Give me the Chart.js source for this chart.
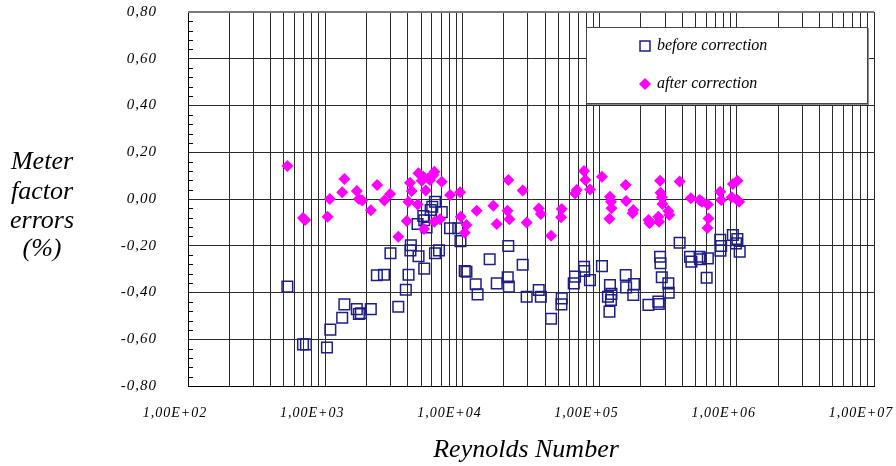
<!DOCTYPE html>
<html>
<head>
<meta charset="utf-8">
<script src="https://cdn.jsdelivr.net/npm/chart.js@4/dist/chart.umd.min.js"></script>
<style>
  html, body { margin: 0; padding: 0; background: #fff; }
  #wrap { width: 896px; height: 466px; }
</style>
</head>
<body>
<div id="wrap"><canvas id="c" width="896" height="466"></canvas></div>
<script>
// Meter factor error (%) against Reynolds number
const reBefore = [
  530, 689, 724, 1030, 1090, 1330, 1380, 1700, 1760, 1820,
  2150, 2380, 2680, 2990, 3410, 3870, 4050, 4210, 4180, 4790,
  5270, 4710, 5190, 5270, 5480, 5870, 6030, 6310, 7070, 6310,
  6750, 8130, 9330, 9680, 10400, 10700, 12500, 12900, 15800, 17800,
  21600, 21400, 21800, 27500, 29400, 36000, 37300, 44300, 53000, 52700,
  66200, 64800, 77000, 77300, 85100, 104000, 119000, 122000, 121000, 118000,
  115000, 155000, 156000, 178000, 176000, 227000, 268000, 270000, 276000, 278000,
  284000, 317000, 319000, 383000, 456000, 467000, 535000, 540000, 615000, 603000,
  757000, 769000, 760000, 936000, 1010000, 987000, 1050000
];
const errBefore = [
  -0.375, -0.622, -0.622, -0.635, -0.559, -0.508, -0.451, -0.471, -0.492, -0.489,
  -0.471, -0.326, -0.324, -0.232, -0.461, -0.388, -0.324, -0.198, -0.220, -0.245,
  -0.298, -0.107, -0.073, -0.091, -0.122, -0.047, -0.033, -0.012, -0.056, -0.232,
  -0.220, -0.125, -0.125, -0.180, -0.308, -0.311, -0.365, -0.408, -0.258, -0.361,
  -0.201, -0.335, -0.375, -0.281, -0.418, -0.389, -0.418, -0.512, -0.425, -0.451,
  -0.332, -0.361, -0.290, -0.308, -0.347, -0.287, -0.368, -0.406, -0.432, -0.482,
  -0.418, -0.325, -0.378, -0.364, -0.411, -0.453, -0.439, -0.449, -0.247, -0.275,
  -0.335, -0.361, -0.401, -0.187, -0.247, -0.268, -0.247, -0.258, -0.254, -0.337,
  -0.175, -0.201, -0.221, -0.154, -0.171, -0.190, -0.225
];
const reAfter = [
  530, 689, 713, 1040, 1380, 1330, 1080, 1700, 1760, 1860,
  2150, 2390, 2700, 2970, 3410, 3930, 4040, 4150, 4270, 4780,
  4720, 5050, 5190, 5640, 5400, 5250, 6140, 6250, 5810, 6250,
  6870, 7070, 8130, 9620, 9730, 10700, 10400, 12700, 16800, 17800,
  21600, 21300, 22000, 27500, 29400, 36000, 37300, 44300, 53000, 52400,
  66200, 68100, 77000, 78700, 85100, 104000, 119000, 121000, 122000, 118000,
  155000, 156000, 176000, 174000, 227000, 231000, 268000, 271000, 276000, 278000,
  284000, 287000, 317000, 322000, 383000, 462000, 535000, 556000, 615000, 622000,
  611000, 757000, 769000, 936000, 1010000, 918000, 1010000, 1040000
];
const errAfter = [
  0.141, -0.081, -0.090, -0.076, 0.086, 0.029, 0.000, 0.034, 0.000, -0.006,
  -0.048, 0.060, -0.006, 0.021, -0.161, -0.094, -0.012, 0.070, 0.034, 0.110,
  -0.023, 0.078, 0.095, 0.089, 0.036, -0.128, 0.103, 0.117, 0.081, -0.097,
  -0.087, 0.074, 0.017, 0.029, -0.076, -0.111, -0.144, -0.050, -0.029, -0.107,
  0.081, -0.050, -0.087, 0.036, -0.101, -0.041, -0.064, -0.157, -0.043, -0.078,
  0.024, 0.038, 0.120, 0.081, 0.041, 0.095, 0.010, -0.012, -0.040, -0.084,
  0.060, -0.009, -0.047, -0.061, -0.090, -0.104, -0.076, -0.097, 0.078, 0.027,
  0.007, -0.021, -0.051, -0.068, 0.075, 0.003, -0.004, -0.012, -0.024, -0.083,
  -0.124, 0.031, -0.004, 0.064, 0.078, 0.007, -0.004, -0.012
];

const xDecades = [1e2, 1e3, 1e4, 1e5, 1e6, 1e7];
const yTicks = [-0.8, -0.6, -0.4, -0.2, 0, 0.2, 0.4, 0.6, 0.8];
const yTitleLines = ['Meter', 'factor', 'errors', '(%)'];
const xTitle = 'Reynolds Number';
const seriesNames = ['before correction', 'after correction'];

const SERIF = "'Liberation Serif', 'Times New Roman', serif";
const NAVY = '#1e1e8c';
const MAGENTA = '#ff00ff';
const GRID = '#2b2b2b';

function pts(xs, ys) { return xs.map((x, i) => ({ x: x, y: ys[i] })); }

// 1..9 x 10^n grid ticks across every decade
function logTicks() {
  const out = [];
  for (let d = 0; d < xDecades.length - 1; d++) {
    for (let m = 1; m <= 9; m++) out.push({ value: m * xDecades[d] });
  }
  out.push({ value: xDecades[xDecades.length - 1] });
  return out;
}

function decadeLabel(v) {
  const e = Math.round(Math.log10(v));
  if (Math.abs(v - Math.pow(10, e)) > 1e-6 * v) return '';
  return '1,00E+' + String(e).padStart(2, '0');
}

// tick labels drawn with wide letter spacing; reset before titles and legend
const spacingPlugin = {
  id: 'spacing',
  beforeDraw(chart) { chart.ctx.letterSpacing = '1px'; },
  afterDraw(chart) { chart.ctx.letterSpacing = '0px'; }
};

// short inward minor ticks on the left axis
const minorTicksPlugin = {
  id: 'minorTicks',
  afterDatasetsDraw(chart) {
    const y = chart.scales.y, area = chart.chartArea, ctx = chart.ctx;
    ctx.save();
    ctx.strokeStyle = '#000';
    ctx.lineWidth = 1;
    for (let k = -20; k <= 20; k++) {
      if (k % 5 === 0) continue;
      const py = Math.round(y.getPixelForValue(k * 0.04)) + 0.5;
      ctx.beginPath();
      ctx.moveTo(area.left, py);
      ctx.lineTo(area.left + 5, py);
      ctx.stroke();
    }
    // slightly heavier grey frame along the top edge
    ctx.strokeStyle = '#7a7a7a';
    ctx.lineWidth = 2;
    ctx.beginPath();
    ctx.moveTo(area.left, area.top);
    ctx.lineTo(area.right, area.top);
    ctx.stroke();
    ctx.restore();
  }
};

// axis titles and the boxed legend
const decorPlugin = {
  id: 'decor',
  afterDraw(chart) {
    const ctx = chart.ctx;
    ctx.save();
    ctx.letterSpacing = '0px';
    ctx.fillStyle = '#000';
    ctx.textAlign = 'center';
    ctx.textBaseline = 'alphabetic';
    ctx.font = 'italic 26px ' + SERIF;
    const baseY = [169, 199, 228, 256];
    yTitleLines.forEach((t, i) => ctx.fillText(t, 42, baseY[i]));
    ctx.fillText(xTitle, 526, 457);

    // legend box
    const bx = 586, by = 27, bw = 281, bh = 76;
    ctx.fillStyle = '#fff';
    ctx.fillRect(bx, by, bw, bh);
    ctx.strokeStyle = '#8a8a8a';
    ctx.lineWidth = 2;
    ctx.beginPath();
    ctx.moveTo(bx + bw + 1, by + 1); ctx.lineTo(bx + bw + 1, by + bh + 1); ctx.lineTo(bx + 1, by + bh + 1);
    ctx.stroke();
    ctx.strokeStyle = '#444';
    ctx.lineWidth = 1;
    ctx.strokeRect(bx + 0.5, by + 0.5, bw, bh);

    const ds = chart.data.datasets;
    const rows = [46, 84];
    ds.forEach((d, i) => {
      const cy = rows[i], cx = 645;
      ctx.save();
      if (d.pointStyle === 'rect') {
        ctx.strokeStyle = d.borderColor;
        ctx.lineWidth = 1.5;
        ctx.strokeRect(cx - 5, cy - 5, 10, 10);
      } else {
        ctx.fillStyle = d.backgroundColor;
        ctx.beginPath();
        ctx.moveTo(cx, cy - 6); ctx.lineTo(cx + 6, cy); ctx.lineTo(cx, cy + 6); ctx.lineTo(cx - 6, cy);
        ctx.closePath();
        ctx.fill();
      }
      ctx.restore();
      ctx.fillStyle = '#000';
      ctx.textAlign = 'left';
      ctx.textBaseline = 'middle';
      ctx.font = 'italic 16px ' + SERIF;
      ctx.fillText(d.label, 657, cy);
    });
    ctx.restore();
  }
};

new Chart(document.getElementById('c'), {
  type: 'scatter',
  data: {
    datasets: [
      {
        label: seriesNames[0],
        data: pts(reBefore, errBefore),
        pointStyle: 'rect',
        radius: 7.5,
        borderWidth: 1.5,
        borderColor: NAVY,
        backgroundColor: 'rgba(0,0,0,0)',
        order: 2
      },
      {
        label: seriesNames[1],
        data: pts(reAfter, errAfter),
        pointStyle: 'rectRot',
        radius: 6,
        borderWidth: 0,
        borderColor: MAGENTA,
        backgroundColor: MAGENTA,
        order: 1
      }
    ]
  },
  options: {
    responsive: false,
    animation: false,
    events: [],
    layout: { padding: { left: 0, top: 12, right: 22, bottom: 0 } },
    plugins: { legend: { display: false }, tooltip: { enabled: false }, title: { display: false } },
    scales: {
      x: {
        type: 'logarithmic',
        min: xDecades[0],
        max: xDecades[xDecades.length - 1],
        afterBuildTicks(scale) { scale.ticks = logTicks(); },
        afterFit(scale) { scale.height = 80; scale.paddingLeft = 0; scale.paddingRight = 0; },
        grid: { color: GRID, lineWidth: 1, drawTicks: false },
        border: { color: '#000', width: 1 },
        ticks: {
          autoSkip: false,
          maxRotation: 0,
          minRotation: 0,
          padding: 19,
          labelOffset: -13,
          color: '#000',
          font: { family: SERIF, style: 'italic', size: 14 },
          callback: (v) => decadeLabel(v)
        }
      },
      y: {
        min: yTicks[0],
        max: yTicks[yTicks.length - 1],
        afterBuildTicks(scale) { scale.ticks = yTicks.map(v => ({ value: v })); },
        afterFit(scale) { scale.width = 188; scale.paddingTop = 0; scale.paddingBottom = 0; },
        grid: { color: GRID, lineWidth: 1, drawTicks: false },
        border: { color: '#000', width: 1 },
        ticks: {
          padding: 31,
          color: '#000',
          font: { family: SERIF, style: 'italic', size: 15 },
          callback: (v) => (Math.round(v * 100) / 100).toFixed(2).replace('.', ',')
        }
      }
    }
  },
  plugins: [spacingPlugin, minorTicksPlugin, decorPlugin]
});
</script>
</body>
</html>
